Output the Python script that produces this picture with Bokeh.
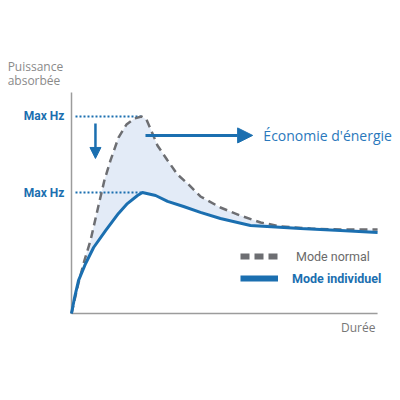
from bokeh.plotting import figure
from bokeh.models import Range1d, Label, Arrow, NormalHead, Legend, LegendItem
from bokeh.embed import file_html
from bokeh.resources import INLINE

# time in % of the window, power in % of the normal-mode peak
normal_x = [0, 2.3, 4.2, 6.2, 8.8, 10.7, 12.7, 15.3, 17.9, 20.5, 22.8, 24.4, 25.7, 28.0,
            31.3, 34.5, 37.8, 42.0, 48.5, 55.0, 61.6, 68.1, 77.9, 87.6, 99.7]
normal_y = [0, 15.7, 26.9, 37.1, 54.8, 67.5, 77.7, 89.3, 95.9, 99.0, 100, 98.5, 93.9, 85.3,
            77.7, 70.6, 66.0, 59.4, 53.8, 49.7, 46.2, 44.2, 43.1, 42.6, 42.6]
indiv_x = [0, 1.0, 2.3, 4.6, 7.2, 11.1, 15.3, 18.2, 21.5, 23.1, 27.4, 31.3, 36.5, 42.0,
           48.5, 58.3, 74.6, 87.6, 99.7]
indiv_y = [0, 8.1, 16.8, 25.4, 33.5, 42.1, 50.8, 55.8, 59.9, 61.4, 59.9, 56.9, 54.3, 51.3,
           48.2, 44.7, 43.1, 42.1, 41.1]
tick_labels = ["Max Hz", "Max Hz"]
axis_titles = ["Puissance", "absorbée", "Durée"]

BLUE = "#1b6fb0"
GRAY = "#6d6e72"
AXIS = "#9c9c9c"

# the frame fills the whole canvas so that nothing gets clipped
p = figure(width=400, height=400, output_backend="svg", toolbar_location=None,
           x_range=Range1d(-23.13, 107.17), y_range=Range1d(-44.16, 158.88),
           x_axis_type=None, y_axis_type=None, min_border=0)
p.outline_line_color = None
p.grid.grid_line_color = None

peak_n = max(normal_y)
peak_i = max(indiv_y)
px_n = normal_x[normal_y.index(peak_n)]
px_i = indiv_x[indiv_y.index(peak_i)]

# axis lines
p.line([0, 0], [0, 112.2], line_color=AXIS, line_width=1.5)
p.line([0, 99.7], [0, 0], line_color=AXIS, line_width=1.5)

# energy saving area
p.patch(normal_x + indiv_x[::-1], normal_y + indiv_y[::-1],
        fill_color="#e3ebf7", line_color=None)

# peak guides
p.line([1.3, px_n], [peak_n, peak_n], line_color=BLUE, line_width=2, line_dash="2 2")
p.line([1.3, px_i], [peak_i, peak_i], line_color=BLUE, line_width=2, line_dash="2 2")

p.line(normal_x, normal_y, line_color=GRAY, line_width=2.5, line_dash="8 5")
p.line(indiv_x, indiv_y, line_color=BLUE, line_width=3)

# "tick" labels
for yv, lab in zip([peak_n, peak_i], tick_labels):
    p.add_layout(Label(x=-2.3, y=yv, text=lab, text_align="right", text_baseline="middle",
                       text_color=BLUE, text_font="Roboto", text_font_style="bold",
                       text_font_size="12px"))

# arrows
p.add_layout(Arrow(x_start=7.8, y_start=96.4, x_end=7.8, y_end=78.7,
                   line_color=BLUE, line_width=2.5,
                   end=NormalHead(size=11, fill_color=BLUE, line_color=BLUE)))
p.add_layout(Arrow(x_start=px_n + 1.3, y_start=90.4, x_end=59, y_end=90.4,
                   line_color=BLUE, line_width=3,
                   end=NormalHead(size=15, fill_color=BLUE, line_color=BLUE)))
p.add_layout(Label(x=62.5, y=90.4, text="Économie d'énergie", text_color="#2a78bc",
                   text_font="Open Sans", text_font_size="14px", text_baseline="middle"))

# axis titles
p.add_layout(Label(x=-20.8, y=125.4, text=axis_titles[0], text_color="#8a8a8a",
                   text_font="Open Sans", text_font_size="12px", text_baseline="middle"))
p.add_layout(Label(x=-20.8, y=118.3, text=axis_titles[1], text_color="#8a8a8a",
                   text_font="Open Sans", text_font_size="12px", text_baseline="middle"))
p.add_layout(Label(x=99.0, y=-7.1, text=axis_titles[2], text_color="#777777",
                   text_font="Open Sans", text_font_size="12px", text_baseline="middle",
                   text_align="right"))

# legend
leg_n = p.line(normal_x[:1], normal_y[:1], line_color=GRAY, line_width=6, line_dash="9 5")
leg_i = p.line(indiv_x[:1], indiv_y[:1], line_color=BLUE, line_width=6)
for r, lab, col, style, loc, stand in [
        (leg_n, "Mode normal", "#6a6a6a", "normal", (240, 134), 18),
        (leg_i, "Mode individuel", BLUE, "bold", (240, 112), 14)]:
    lg = Legend(items=[LegendItem(label=lab, renderers=[r])], location=loc,
                padding=0, margin=0, border_line_color=None, background_fill_alpha=0,
                glyph_width=38, glyph_height=20, label_height=20, label_standoff=stand,
                label_text_color=col, label_text_font="Roboto",
                label_text_font_style=style, label_text_font_size="12.5px")
    p.add_layout(lg)

open("out.html", "w").write(file_html(p, INLINE))
